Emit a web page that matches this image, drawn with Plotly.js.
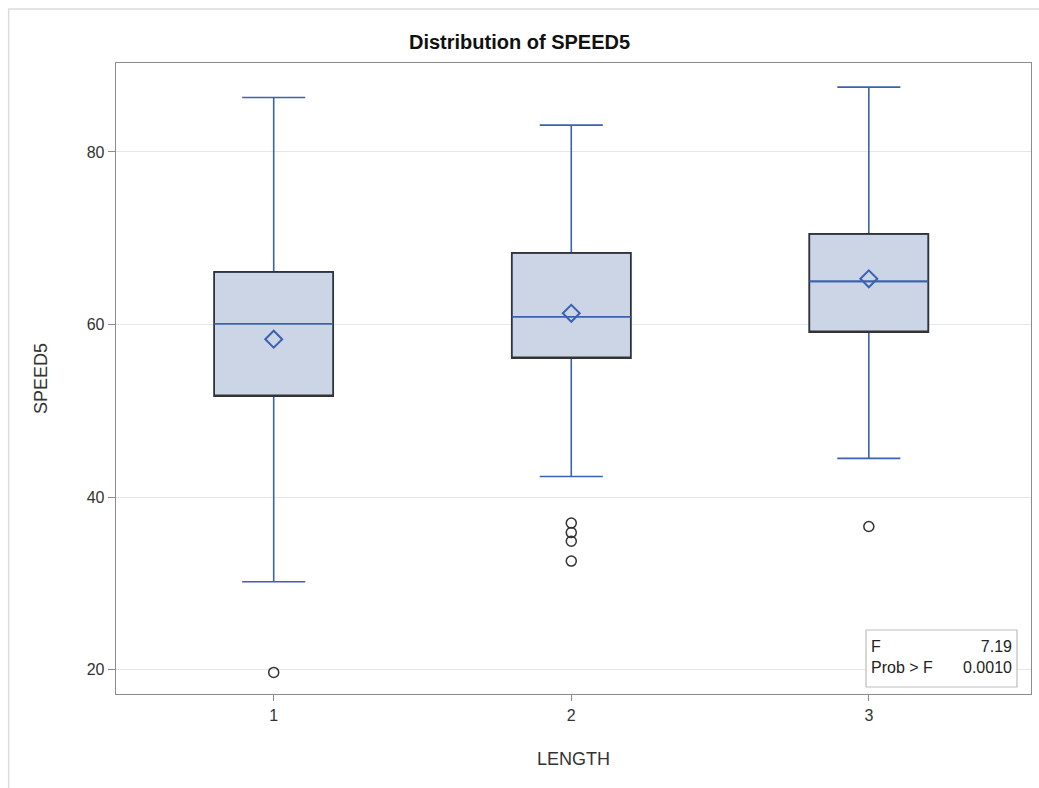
<!DOCTYPE html>
<html><head><meta charset="utf-8">
<script src="https://cdn.plot.ly/plotly-3.0.1.min.js"></script>
<style>html,body{margin:0;padding:0;background:#fff;}#chart{width:1039px;height:788px;}</style>
</head><body><div id="chart"></div>
<script>
const categories = [1, 2, 3];
const q1 = [51.7, 56.1, 59.1];
const medians = [60.1, 60.9, 65.0];
const q3 = [66.1, 68.3, 70.5];
const lowerWhisker = [30.2, 42.4, 44.5];
const upperWhisker = [86.3, 83.1, 87.5];
const means = [58.3, 61.3, 65.3];
const outlierX = [1, 2, 2, 2, 2, 3];
const outlierY = [19.7, 37.0, 35.9, 34.9, 32.6, 36.6];
const statLabels = ["F", "Prob > F"];
const statValues = ["7.19", "0.0010"];

const blue = '#3a62b0';
const fill = '#cbd5e6';
const dark = '#333333';

const traces = [
  {
    type: 'box', x: categories, q1: q1, median: medians, q3: q3,
    lowerfence: lowerWhisker, upperfence: upperWhisker,
    width: 0.4, whiskerwidth: 0.53,
    fillcolor: fill, line: {color: blue, width: 1.6},
    boxpoints: false, hoverinfo: 'skip', showlegend: false
  },
  {
    type: 'box', x: categories, q1: q1, median: q1, q3: q3,
    lowerfence: q1, upperfence: q3,
    width: 0.4, whiskerwidth: 0,
    fillcolor: 'rgba(0,0,0,0)', line: {color: dark, width: 1.6},
    boxpoints: false, hoverinfo: 'skip', showlegend: false
  },
  {
    type: 'box', x: categories, q1: medians, median: medians, q3: medians,
    lowerfence: medians, upperfence: medians,
    width: 0.4, whiskerwidth: 0,
    fillcolor: 'rgba(0,0,0,0)', line: {color: blue, width: 1.6},
    boxpoints: false, hoverinfo: 'skip', showlegend: false
  },
  {
    type: 'scatter', mode: 'markers', x: categories, y: means,
    marker: {symbol: 'diamond-open', size: 13, color: blue, line: {width: 2, color: blue}},
    showlegend: false, hoverinfo: 'skip'
  },
  {
    type: 'scatter', mode: 'markers', x: outlierX, y: outlierY,
    marker: {symbol: 'circle-open', size: 10, color: dark, line: {width: 1.5, color: dark}},
    showlegend: false, hoverinfo: 'skip'
  }
];

const font = "'Liberation Sans', Arial, sans-serif";
const layout = {
  width: 1039, height: 788,
  margin: {l: 116, r: 8, t: 63, b: 94},
  paper_bgcolor: '#ffffff', plot_bgcolor: '#ffffff',
  font: {family: font, color: '#333', size: 16},
  title: {text: '<b>Distribution of SPEED5</b>', x: 0.5, xanchor: 'center', y: 0.947, yanchor: 'middle',
          font: {family: font, size: 20, color: '#111'}},
  boxmode: 'overlay',
  xaxis: {
    range: [0.47, 3.545], tickvals: categories, ticktext: categories.map(String),
    showgrid: false, zeroline: false, showline: true, mirror: true, linecolor: '#8c8c8c', linewidth: 1.3,
    ticks: 'outside', ticklen: 6, tickcolor: '#8c8c8c',
    tickfont: {size: 16, color: '#333'},
    title: {text: 'LENGTH', font: {size: 18, color: '#333'}, standoff: 30}
  },
  yaxis: {
    range: [17.2, 90.3], tickvals: [20, 40, 60, 80],
    showgrid: true, gridcolor: '#e6e6e6', gridwidth: 1, zeroline: false,
    showline: true, mirror: true, linecolor: '#8c8c8c', linewidth: 1.3,
    ticks: 'outside', ticklen: 7, tickcolor: '#8c8c8c',
    tickfont: {size: 16, color: '#333'},
    title: {text: 'SPEED5', font: {size: 18, color: '#333'}, standoff: 34}
  },
  shapes: [
    {type: 'rect', xref: 'paper', yref: 'paper', x0: 0.8197, x1: 0.9847, y0: 0.0111, y1: 0.1014,
     line: {color: '#bdbdbd', width: 1.2}, fillcolor: '#ffffff', layer: 'above'},
    {type: 'rect', xref: 'paper', yref: 'paper', x0: -0.1173, x1: 1.02, y0: -0.17, y1: 1.0856,
     line: {color: '#dcdcdc', width: 1.5}, fillcolor: 'rgba(0,0,0,0)', layer: 'below'}
  ],
  annotations: [
    {xref: 'paper', yref: 'paper', x: 0.8230, y: 0.0580, xanchor: 'left', yanchor: 'middle',
     text: statLabels.join('<br>'), align: 'left', showarrow: false,
     font: {size: 16, color: '#222'}},
    {xref: 'paper', yref: 'paper', x: 0.9815, y: 0.0580, xanchor: 'right', yanchor: 'middle',
     text: statValues.join('<br>'), align: 'right', showarrow: false,
     font: {size: 16, color: '#222'}}
  ]
};

Plotly.newPlot('chart', traces, layout, {displayModeBar: false, staticPlot: true});
</script>
</body></html>
